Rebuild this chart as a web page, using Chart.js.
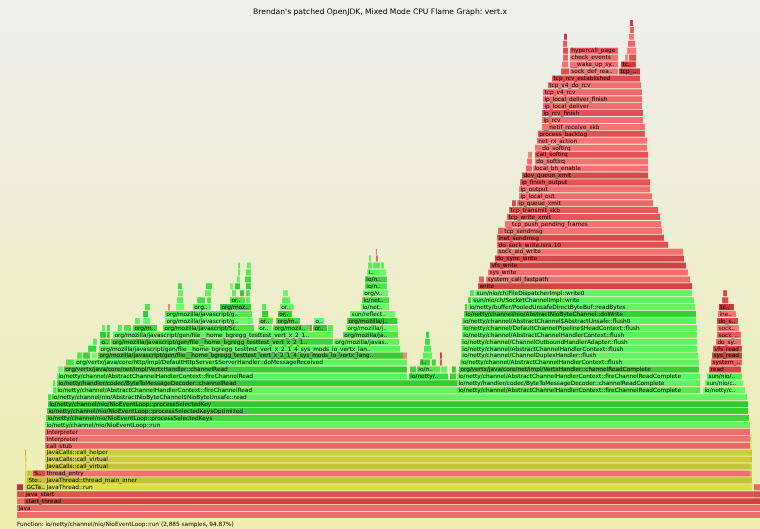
<!DOCTYPE html>
<html>
<head>
<meta charset="utf-8">
<title>vert.x flame graph</title>
<script src="https://cdn.jsdelivr.net/npm/chart.js@4.4.1/dist/chart.umd.min.js"></script>
<style>
  html, body { margin: 0; padding: 0; background: #eeeeee; }
  #wrap { width: 760px; height: 529px; }
</style>
</head>
<body>
<div id="wrap"><canvas id="flameChart" width="760" height="529"></canvas></div>
<script>
// total samples in the profile (NioEventLoop::run = 2,885 samples = 94.87%)
const totalSamples = 3041;
const chartTitle = "Brendan's patched OpenJDK, Mixed Mode CPU Flame Graph: vert.x";
const footerText = "Function: io/netty/channel/nio/NioEventLoop::run (2,885 samples, 94.87%)";
const JS_GEN = "org/mozilla/javascript/gen/file__home_bgregg_testtest_vert_x_2_1_4_sys_mods_io_vertx_lang_js_1_1_0_vertx_http_js_";
const RT = "org/mozilla/javascript/ScriptRuntime::";
const SO = "org/mozilla/javascript/ScriptableObject::";
const CTX = "io/netty/channel/AbstractChannelHandlerContext::";

// one inner list per stack depth (0 = bottom): frame names, first sample, sample count
const frameNames = [
  [""],
  ["java"],
  ["[unknown]", "start_thread"],
  ["[unknown]", "java_start", "[unknown]"],
  ["[unknown]", "GCTaskThread::run", "JavaThread::run", "clone"],
  ["GCTaskManager::get_task", "StealTask::do_it", "JavaThread::thread_main_inner", "VMThread::run"],
  ["Monitor::wait", "ParallelTaskTerminator::offer_termination", "SpinPause", "thread_entry", "VMThread::loop"],
  ["Monitor::IWait", "JavaCalls::call_virtual", "VMThread::evaluate_operation"],
  ["os::PlatformEvent::park", "JavaCalls::call_virtual", "VM_Operation::evaluate"],
  ["Parker::park", "JavaCalls::call_helper", "VM_ParallelGCFailedAllocation::doit"],
  ["call_stub", "ParallelScavengeHeap::invoke_scavenge"],
  ["Interpreter", "PSScavenge::invoke"],
  ["Interpreter"],
  ["io/netty/channel/nio/NioEventLoop::run"],
  ["io/netty/channel/nio/NioEventLoop::processSelectedKeys"],
  ["io/netty/channel/nio/NioEventLoop::processSelectedKeysOptimized"],
  ["io/netty/channel/nio/NioEventLoop::processSelectedKey"],
  ["io/netty/channel/nio/AbstractNioChannel$AbstractNioUnsafe::forceFlush", "io/netty/channel/nio/AbstractNioByteChannel$NioByteUnsafe::read"],
  ["io/netty/channel/AbstractChannel$AbstractUnsafe::flush0", CTX + "fireChannelRead", CTX + "fireChannelReadComplete", "io/netty/channel/socket/nio/NioSocketChannel::doReadBytes"],
  ["io/netty/channel/DefaultChannelPipeline::flush", "io/netty/handler/codec/ByteToMessageDecoder::channelRead", "io/netty/handler/codec/ByteToMessageDecoder::channelReadComplete", "sun/nio/ch/SocketChannelImpl::read"],
  [CTX + "fireChannelRead", "io/netty/handler/codec/http/HttpObjectDecoder::decode", "io/netty/handler/codec/ByteToMessageDecoder::callDecode", CTX + "fireChannelReadComplete", "sun/nio/ch/IOUtil::read"],
  ["org/vertx/java/core/net/impl/VertxHandler::channelActive", "org/vertx/java/core/net/impl/VertxHandler::channelRead", "io/netty/handler/codec/http/HttpObjectDecoder::splitInitialLine", "io/netty/handler/codec/http/HttpObjectDecoder::readHeaders", "io/netty/buffer/AbstractByteBuf::forEachByte", "io/netty/handler/codec/http/HttpObjectDecoder::reset", "org/vertx/java/core/net/impl/VertxHandler::channelReadComplete", "read"],
  ["org/vertx/java/core/http/impl/ServerConnection::handleRequest", "org/vertx/java/core/http/impl/DefaultHttpServer$ServerHandler::doMessageReceived", "io/netty/handler/codec/http/HttpHeaders::addHeader", "io/netty/handler/codec/http/HttpHeaders::set", "vtable stub", CTX + "flush", "system_call_fastpath"],
  ["org/vertx/java/core/http/impl/DefaultHttpServerRequest::init", RT + "name", RT + "getPropFunctionAndThis", JS_GEN + "3::call", "vtable stub", "io/netty/handler/codec/http/HttpHeaders::hash", "itable stub", "io/netty/channel/ChannelDuplexHandler::flush", "sys_read"],
  [RT + "getObjectProp", JS_GEN + "2::call", "io/netty/util/internal/AppendableCharSequence::append", CTX + "flush", "vfs_read"],
  [RT + "toObject", RT + "callSpecial", JS_GEN + "4::call", "io/netty/util/internal/AppendableCharSequence::substring", "org/mozilla/javascript/NativeFunction::call", "io/netty/channel/ChannelOutboundHandlerAdapter::flush", "do_sync_read"],
  [RT + "getPropFunctionAndThis", RT + "name", JS_GEN + "5::call", "java/util/Arrays::copyOfRange", "org/mozilla/javascript/JavaMembers::get", CTX + "flush", "sock_aio_read"],
  [RT + "getObjectProp", SO + "getProperty", "org/mozilla/javascript/IdScriptableObject::get", RT + "toBoolean", "org/mozilla/javascript/optimizer/OptRuntime::call1", RT + "setObjectProp", SO + "putProperty", "org/mozilla/javascript/ScriptRuntime::callSpecial", "vtable stub", RT + "nameOrFunction", "org/mozilla/javascript/NativeCall::init", "org/mozilla/javascript/NativeJavaMethod::call", "io/netty/channel/DefaultChannelPipeline$HeadContext::flush", "sock_recvmsg"],
  [SO + "get", "org/mozilla/javascript/NativeCall::initProps", JS_GEN + "6::call", SO + "getImpl", "org/mozilla/javascript/MemberBox::invoke", "org/mozilla/javascript/NativeJavaObject::coerceTypeImpl", "org/mozilla/javascript/NativeJavaMethod::call", "io/netty/channel/AbstractChannel$AbstractUnsafe::flush0", "do_sock_read.isra.12"],
  [RT + "name", JS_GEN + "7::call", SO + "putImpl", RT + "getObjectProp", "sun/reflect/GeneratedMethodAccessor4::invoke", "io/netty/channel/nio/AbstractNioByteChannel::doWrite", "inet_recvmsg"],
  [RT + "toString", "vtable stub", "org/mozilla/javascript/Context::getWrapFactory", RT + "setName", "org/mozilla/javascript/optimizer/OptRuntime::callName", SO + "getSlot", SO + "getProperty", CTX + "writeAndFlush", "io/netty/buffer/PooledUnsafeDirectByteBuf::internalNioBuffer", "io/netty/buffer/PooledUnsafeDirectByteBuf::readBytes", "tcp_recvmsg"],
  ["org/mozilla/javascript/WrapFactory::wrap", RT + "bind", RT + "getObjectProp", RT + "callSpecial", SO + "has", SO + "getImpl", CTX + "write", "sun/nio/ch/IOUtil::write", "sun/nio/ch/SocketChannelImpl::write", "tcp_cleanup_rbuf"],
  ["org/mozilla/javascript/NativeJavaObject::init", RT + "toNumber", SO + "get", SO + "getImpl", RT + "getObjectElem", SO + "getSlot", "org/vertx/java/core/http/impl/DefaultHttpServerResponse::end", "sun/nio/ch/IOUtil::writeFromNativeBuffer", "sun/nio/ch/FileDispatcherImpl::write0", "tcp_send_delayed_ack"],
  ["org/mozilla/javascript/JavaMembers::lookupClass", RT + "toString", SO + "getParentScope", SO + "get", RT + "bind", CTX + "writeAndFlush", "write"],
  [SO + "has", "org/mozilla/javascript/JavaMembers::get", "io/netty/channel/DefaultChannelPipeline::writeAndFlush", "sysret_check", "system_call_fastpath"],
  ["org/mozilla/javascript/NativeJavaObject::wrap", "org/mozilla/javascript/JavaMembers::reflect", "io/netty/channel/AbstractChannel::writeAndFlush", CTX + "invokeWrite", "sys_write"],
  ["org/mozilla/javascript/WrapFactory::wrapAsJavaObject", "org/mozilla/javascript/ClassCache::get", "io/netty/handler/codec/MessageToMessageEncoder::write", "io/netty/handler/codec/http/HttpObjectEncoder::encode", "io/netty/buffer/ByteBufUtil::writeAscii", "vfs_write"],
  ["io/netty/buffer/AbstractByteBuf::writeBytes", "vtable stub", "do_sync_write"],
  ["itable stub", "sock_aio_write"],
  ["do_sock_write.isra.10"],
  ["inet_sendmsg"],
  ["security_socket_sendmsg", "tcp_sendmsg"],
  ["__tcp_push_pending_frames"],
  ["tcp_write_xmit"],
  ["tcp_transmit_skb"],
  ["skb_clone", "ip_queue_xmit"],
  ["ip_local_out"],
  ["ip_output"],
  ["ip_finish_output"],
  ["dev_queue_xmit"],
  ["dev_hard_start_xmit", "local_bh_enable"],
  ["loopback_xmit", "do_softirq"],
  ["netif_rx", "call_softirq"],
  ["__do_softirq"],
  ["net_rx_action"],
  ["process_backlog"],
  ["__netif_receive_skb"],
  ["ip_rcv"],
  ["ip_rcv_finish"],
  ["ip_local_deliver"],
  ["ip_local_deliver_finish"],
  ["tcp_v4_rcv"],
  ["tcp_v4_do_rcv"],
  ["tcp_rcv_established"],
  ["tcp_event_data_recv", "sock_def_readable", "tcp_data_queue"],
  ["tcp_grow_window", "__wake_up_sync_key", "tcp_event_new_data_sent"],
  ["tcp_rcv_rtt_update", "check_events", "tcp_ack", "tcp_clean_rtx_queue"],
  ["xen_restore_fl_direct_end", "hypercall_page", "tcp_rearm_rto"],
  ["xen_restore_fl_direct", "sk_reset_timer"],
  ["xen_irq_enable_direct", "mod_timer"],
  ["lock_timer_base.isra.35"],
  ["_raw_spin_lock_irqsave"]
];

const frameStarts = [
  [0],
  [0],
  [0, 29],
  [0, 29, 3016],
  [0, 33, 115, 3016],
  [33, 41, 115, 3000],
  [33, 41, 65, 115, 3000],
  [33, 115, 3000],
  [33, 115, 3000],
  [33, 115, 3000],
  [115, 3000],
  [115, 3000],
  [115],
  [115],
  [119],
  [123],
  [127],
  [127, 139],
  [147, 160, 1801, 2808],
  [147, 164, 1801, 2816],
  [164, 1604, 1772, 1801, 2824],
  [168, 192, 1609, 1637, 1735, 1780, 1809, 2833],
  [200, 237, 1649, 1698, 1731, 1813, 2841],
  [246, 270, 307, 332, 1580, 1662, 1731, 1817, 2845],
  [291, 336, 1666, 1817, 2849],
  [311, 340, 385, 1670, 1297, 1817, 2861],
  [340, 368, 393, 1674, 1334, 1821, 2865],
  [348, 368, 413, 438, 475, 598, 986, 1048, 1199, 1212, 1273, 1347, 1821, 2865],
  [483, 516, 606, 990, 1060, 1216, 1351, 1821, 2865],
  [516, 606, 1003, 1068, 1363, 1830, 2869],
  [524, 618, 651, 720, 831, 1003, 1076, 1408, 1834, 1846, 2873],
  [655, 737, 778, 872, 937, 1085, 1412, 1846, 1862, 2886],
  [659, 769, 880, 913, 937, 1089, 1416, 1854, 1875, 2890],
  [659, 773, 872, 892, 937, 1424, 1887],
  [900, 933, 1424, 1891, 1920],
  [905, 937, 1433, 1482, 1928],
  [905, 941, 1437, 1457, 1490, 1936],
  [1441, 1469, 1956],
  [1469, 1965],
  [1965],
  [1965],
  [1969, 1989],
  [1997],
  [2006],
  [2014],
  [2026, 2047],
  [2055],
  [2055],
  [2059],
  [2067],
  [2083, 2112],
  [2088, 2120],
  [2092, 2120],
  [2120],
  [2128],
  [2132],
  [2149],
  [2149],
  [2149],
  [2153],
  [2153],
  [2153],
  [2173],
  [2190],
  [2227, 2263, 2464],
  [2231, 2263, 2472],
  [2235, 2263, 2489, 2505],
  [2235, 2263, 2497],
  [2235, 2501],
  [2239, 2505],
  [2509],
  [2509]
];

const frameSamples = [
  [3041],
  [3041],
  [29, 3012],
  [29, 2987, 25],
  [25, 82, 2893, 25],
  [8, 74, 2885, 8],
  [6, 24, 50, 2885, 8],
  [6, 2885, 8],
  [6, 2885, 8],
  [4, 2885, 8],
  [2885, 6],
  [2885, 6],
  [2885],
  [2885],
  [2877],
  [2869],
  [2865],
  [12, 2849],
  [13, 1641, 995, 172],
  [10, 1637, 995, 156],
  [1432, 160, 25, 995, 143],
  [21, 1404, 24, 94, 25, 16, 982, 130],
  [33, 1359, 41, 16, 8, 978, 126],
  [20, 29, 20, 1248, 16, 37, 8, 970, 122],
  [33, 1232, 28, 966, 118],
  [16, 41, 908, 20, 266, 966, 102],
  [24, 12, 900, 12, 225, 962, 98],
  [12, 12, 16, 29, 98, 372, 57, 151, 8, 57, 20, 212, 962, 90],
  [20, 29, 360, 57, 98, 41, 206, 958, 86],
  [20, 356, 25, 57, 184, 949, 74],
  [20, 8, 33, 74, 127, 16, 57, 115, 8, 929, 61],
  [25, 33, 16, 61, 16, 33, 111, 12, 909, 25],
  [20, 25, 16, 16, 16, 20, 102, 17, 888, 16],
  [16, 25, 12, 21, 20, 90, 876],
  [12, 25, 90, 20, 835],
  [8, 20, 49, 29, 818],
  [8, 16, 16, 29, 12, 802],
  [8, 8, 774],
  [4, 761],
  [700],
  [683],
  [20, 651],
  [639],
  [626],
  [610],
  [16, 556],
  [544],
  [536],
  [532],
  [516],
  [25, 471],
  [20, 463],
  [16, 463],
  [459],
  [451],
  [438],
  [421],
  [413],
  [413],
  [405],
  [405],
  [405],
  [381],
  [360],
  [33, 197, 86],
  [25, 197, 61],
  [20, 197, 12, 29],
  [20, 197, 37],
  [16, 29],
  [12, 20],
  [16],
  [12]
];

// shade (0..1 inside the palette) of the larger frames; others get a hashed shade
const frameShades = {
  "0|": 0.7, "1|java": 0.68, "2|start_thread": 0.2, "3|java_start": 0.42,
  "4|JavaThread::run": 0.85, "4|GCTaskThread::run": 0.55, "5|StealTask::do_it": 0.3,
  "5|JavaThread::thread_main_inner": 0.35, "6|thread_entry": 0.78, "6|SpinPause": 0.3,
  "6|ParallelTaskTerminator::offer_termination": 0.4, "7|JavaCalls::call_virtual": 0.38,
  "8|JavaCalls::call_virtual": 0.5, "9|JavaCalls::call_helper": 0.56, "10|call_stub": 0.65,
  "11|Interpreter": 0.78, "12|Interpreter": 0.72,
  "13|io/netty/channel/nio/NioEventLoop::run": 0.8,
  "14|io/netty/channel/nio/NioEventLoop::processSelectedKeys": 0.25,
  "15|io/netty/channel/nio/NioEventLoop::processSelectedKeysOptimized": 0.12,
  "16|io/netty/channel/nio/NioEventLoop::processSelectedKey": 0.0,
  "17|io/netty/channel/nio/AbstractNioByteChannel$NioByteUnsafe::read": 0.78,
  "18|io/netty/channel/AbstractChannelHandlerContext::fireChannelRead": 0.8,
  "18|io/netty/channel/AbstractChannelHandlerContext::fireChannelReadComplete": 0.6,
  "19|io/netty/handler/codec/ByteToMessageDecoder::channelRead": 0.05,
  "19|io/netty/handler/codec/ByteToMessageDecoder::channelReadComplete": 0.75,
  "20|io/netty/channel/AbstractChannelHandlerContext::fireChannelRead": 0.75,
  "20|io/netty/channel/AbstractChannelHandlerContext::fireChannelReadComplete": 0.8,
  "21|org/vertx/java/core/net/impl/VertxHandler::channelRead": 0.1,
  "21|org/vertx/java/core/net/impl/VertxHandler::channelReadComplete": 0.1,
  "22|org/vertx/java/core/http/impl/DefaultHttpServer$ServerHandler::doMessageReceived": 0.75,
  "22|io/netty/channel/AbstractChannelHandlerContext::flush": 0.75,
  "23|io/netty/channel/ChannelDuplexHandler::flush": 0.8,
  "24|io/netty/channel/AbstractChannelHandlerContext::flush": 0.72,
  "25|io/netty/channel/ChannelOutboundHandlerAdapter::flush": 0.78,
  "26|io/netty/channel/AbstractChannelHandlerContext::flush": 0.74,
  "27|io/netty/channel/DefaultChannelPipeline$HeadContext::flush": 0.8,
  "28|io/netty/channel/AbstractChannel$AbstractUnsafe::flush0": 0.74,
  "29|io/netty/channel/nio/AbstractNioByteChannel::doWrite": 0.1,
  "30|io/netty/buffer/PooledUnsafeDirectByteBuf::readBytes": 0.8,
  "31|sun/nio/ch/SocketChannelImpl::write": 0.76,
  "32|sun/nio/ch/FileDispatcherImpl::write0": 0.8,
  "33|write": 0.22, "34|system_call_fastpath": 0.75, "35|sys_write": 0.75, "36|vfs_write": 0.2,
  "37|do_sync_write": 0.25, "38|sock_aio_write": 0.8, "39|do_sock_write.isra.10": 0.4,
  "40|inet_sendmsg": 0.3, "41|tcp_sendmsg": 0.8, "42|__tcp_push_pending_frames": 0.8,
  "43|tcp_write_xmit": 0.45, "44|tcp_transmit_skb": 0.5, "45|ip_queue_xmit": 0.65,
  "46|ip_local_out": 0.75, "47|ip_output": 0.75, "48|ip_finish_output": 0.45,
  "49|dev_queue_xmit": 0.3, "50|local_bh_enable": 0.8, "51|do_softirq": 0.8,
  "52|call_softirq": 0.4, "53|__do_softirq": 0.8, "54|net_rx_action": 0.85,
  "55|process_backlog": 0.4, "56|__netif_receive_skb": 0.8, "57|ip_rcv": 0.75,
  "58|ip_rcv_finish": 0.4, "59|ip_local_deliver": 0.75, "60|ip_local_deliver_finish": 0.7,
  "61|tcp_v4_rcv": 0.7, "62|tcp_v4_do_rcv": 0.75, "63|tcp_rcv_established": 0.35,
  "64|sock_def_readable": 0.8, "65|__wake_up_sync_key": 0.8, "66|check_events": 0.8,
  "67|hypercall_page": 0.55, "21|read": 0.2, "24|vfs_read": 0.25, "28|do_sock_read.isra.12": 0.3
};

// flat list of frames for the bar dataset
const depthLabels = frameNames.map((_, d) => String(d));
const frames = [];
frameNames.forEach((row, d) => {
  row.forEach((name, i) => {
    const start = frameStarts[d][i];
    frames.push({ y: String(d), x: [start, start + frameSamples[d][i]], name: name });
  });
});

// flame graph palette: java = green, C++ = yellow, everything else (C / kernel) = red
function frameColor(name, d) {
  let v = frameShades[d + '|' + name];
  if (v === undefined) {
    let h = 2166136261;
    const key = name + '#' + d;
    for (let i = 0; i < key.length; i++) {
      h ^= key.charCodeAt(i);
      h = Math.imul(h, 16777619) >>> 0;
    }
    v = (h % 1000) / 1000;
  }
  if (name.indexOf('/') >= 0) {
    const g = 200 + Math.round(55 * v), x = 50 + Math.round(60 * v);
    return 'rgb(' + x + ',' + g + ',' + x + ')';
  }
  if (name.indexOf('::') >= 0) {
    const r = 175 + Math.round(55 * v), b = 50 + Math.round(20 * v);
    return 'rgb(' + r + ',' + r + ',' + b + ')';
  }
  const r = 200 + Math.round(55 * v), x = 50 + Math.round(80 * v);
  return 'rgb(' + r + ',' + x + ',' + x + ')';
}

const charWidth = 3.33;

const backgroundPlugin = {
  id: 'flameBackground',
  beforeDraw(chart) {
    const ctx = chart.ctx;
    const g = ctx.createLinearGradient(0, 0, 0, chart.height);
    g.addColorStop(0, '#eeeeee');
    g.addColorStop(1, '#eeeeb0');
    ctx.save();
    ctx.fillStyle = g;
    ctx.fillRect(0, 0, chart.width, chart.height);
    ctx.restore();
  }
};

const labelPlugin = {
  id: 'frameLabels',
  afterDatasetsDraw(chart) {
    const ctx = chart.ctx;
    const meta = chart.getDatasetMeta(0);
    ctx.save();
    ctx.font = '5.8px "DejaVu Sans"';
    ctx.fillStyle = '#000000';
    ctx.textBaseline = 'middle';
    meta.data.forEach((bar, i) => {
      const f = frames[i];
      const left = Math.min(bar.x, bar.base);
      const w = Math.abs(bar.x - bar.base);
      const chars = Math.floor(w / charWidth);
      if (!f.name || chars < 3) return;
      const text = f.name.length > chars ? f.name.slice(0, chars - 2) + '..' : f.name;
      ctx.fillText(text, left + 1.4, bar.y + 0.3);
    });
    ctx.restore();
  },
  afterDraw(chart) {
    const ctx = chart.ctx;
    ctx.save();
    ctx.fillStyle = '#000000';
    ctx.textBaseline = 'middle';
    ctx.font = '7.6px "DejaVu Sans"';
    ctx.textAlign = 'center';
    ctx.fillText(chartTitle, chart.width / 2, 12);
    ctx.font = '5.8px "DejaVu Sans"';
    ctx.textAlign = 'left';
    ctx.fillText(footerText, 17, 524);
    ctx.restore();
  }
};

const ctx = document.getElementById('flameChart').getContext('2d');
const flameChart = new Chart(ctx, {
  type: 'bar',
  data: {
    labels: depthLabels,
    datasets: [{
      data: frames,
      backgroundColor: frames.map(f => frameColor(f.name, f.y)),
      borderWidth: 0,
      borderSkipped: false,
      barPercentage: 0.87,
      categoryPercentage: 1.0
    }]
  },
  options: {
    indexAxis: 'y',
    responsive: false,
    animation: false,
    layout: { padding: { left: 17, right: 0, top: 19.5, bottom: 10.5 } },
    scales: {
      x: { type: 'linear', min: 0, max: totalSamples, display: false },
      y: { type: 'category', reverse: true, display: false }
    },
    plugins: {
      legend: { display: false },
      tooltip: { enabled: false }
    }
  },
  plugins: [backgroundPlugin, labelPlugin]
});
</script>
</body>
</html>
